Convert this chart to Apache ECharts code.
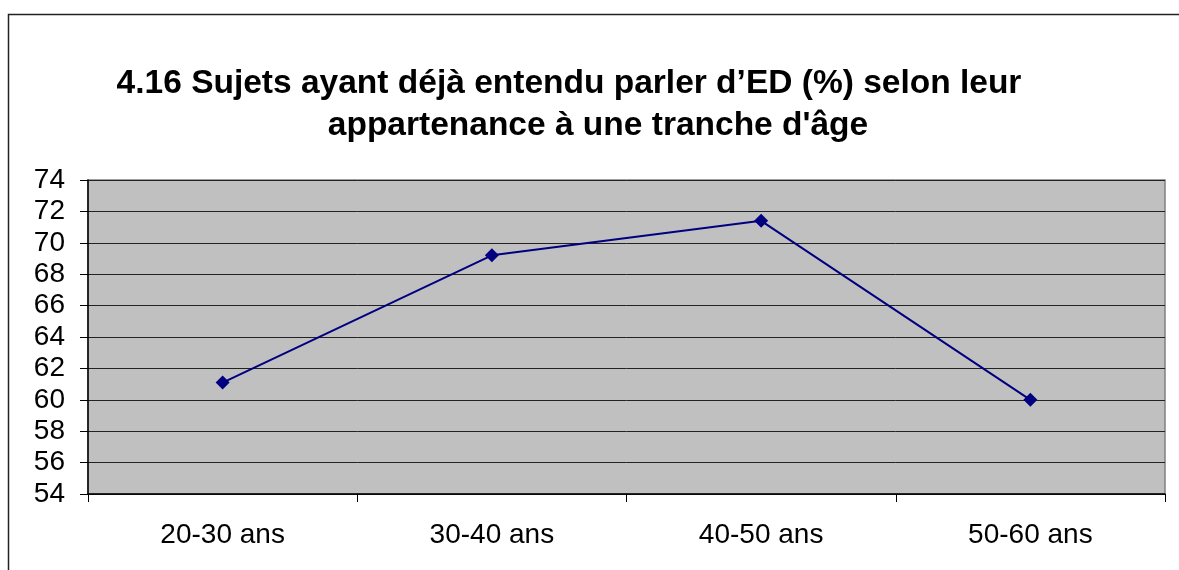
<!DOCTYPE html>
<html>
<head>
<meta charset="utf-8">
<script src="https://cdn.jsdelivr.net/npm/echarts@6/dist/echarts.min.js"></script>
<style>html,body{margin:0;padding:0;background:#fff}#c{width:1179px;height:570px}</style>
</head>
<body>
<div id="c"></div>
<script>
var categories = ["20-30 ans", "30-40 ans", "40-50 ans", "50-60 ans"];
var values = [61.1, 69.2, 71.4, 60.0];
var yTicks = { min: 54, max: 74, interval: 2 };
var titleLine1 = "4.16 Sujets ayant déjà entendu parler d’ED (%) selon leur";
var titleLine2 = "appartenance à une tranche d'âge";

var chart = echarts.init(document.getElementById('c'), null, { renderer: 'canvas' });
var font = '"Liberation Sans", Arial, sans-serif';
chart.setOption({
  animation: false,
  backgroundColor: '#ffffff',
  graphic: [{
    type: 'rect', z: -10,
    shape: { x: 8.5, y: 14.5, width: 1200, height: 600 },
    style: { fill: 'none', stroke: '#222', lineWidth: 1.5 }
  }],
  title: [{
    text: titleLine1, left: 564, top: 62, textAlign: 'center',
    textStyle: { fontFamily: font, fontSize: 33.5, fontWeight: 'bold', color: '#000' }
  }, {
    text: titleLine2, left: 593, top: 104, textAlign: 'center',
    textStyle: { fontFamily: font, fontSize: 33.5, fontWeight: 'bold', color: '#000' }
  }],
  grid: {
    left: 88, top: 180, right: 14, bottom: 76,
    show: true, backgroundColor: '#c0c0c0', borderColor: '#808080', borderWidth: 1.5
  },
  xAxis: {
    type: 'category', data: categories, boundaryGap: true,
    axisLine: { lineStyle: { color: '#000', width: 1.5 } },
    axisTick: { show: true, length: 8, inside: false, alignWithLabel: false, lineStyle: { color: '#000' } },
    axisLabel: { fontFamily: font, fontSize: 28, color: '#000', margin: 27 },
    splitLine: { show: false }
  },
  yAxis: {
    type: 'value', min: yTicks.min, max: yTicks.max, interval: yTicks.interval,
    axisLine: { show: true, lineStyle: { color: '#000', width: 1.5 } },
    axisTick: { show: true, length: 8, inside: false, lineStyle: { color: '#000' } },
    axisLabel: { fontFamily: font, fontSize: 28, color: '#000', margin: 23 },
    splitLine: { show: true, lineStyle: { color: '#222', width: 1 } }
  },
  series: [{
    type: 'line', data: values,
    symbol: 'diamond', symbolSize: 14,
    lineStyle: { color: '#000080', width: 2 },
    itemStyle: { color: '#000080' }
  }]
});
</script>
</body>
</html>
